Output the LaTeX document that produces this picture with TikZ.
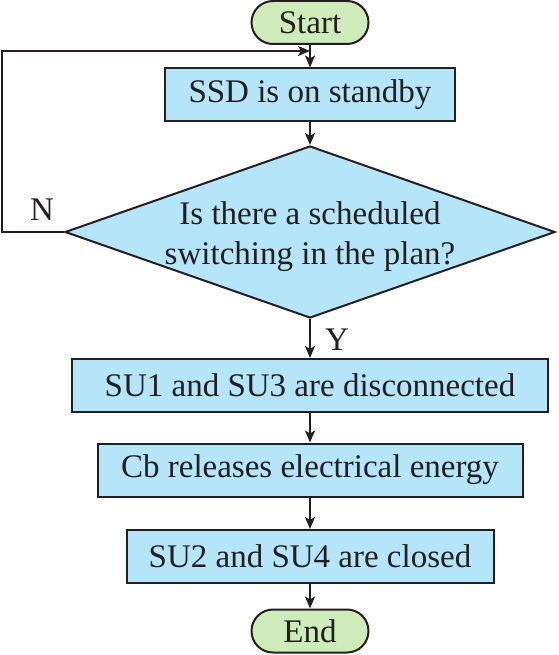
\documentclass[tikz,border=0pt]{standalone}
\usepackage{fontspec}
\setmainfont{Liberation Serif}
\usetikzlibrary{arrows.meta}
\usetikzlibrary{shapes.geometric, shapes.misc}

\definecolor{boxblue}{RGB}{180,229,248}
\definecolor{termgreen}{RGB}{206,236,186}
\definecolor{inkgray}{RGB}{35,31,32}

\tikzset{
	chartfont/.style={text=inkgray, font=\fontsize{33}{40}\selectfont},
	procbox/.style={chartfont, draw=inkgray, line width=2pt, fill=boxblue, minimum height=53pt, inner sep=0pt},
	termbox/.style={chartfont, draw=inkgray, line width=2pt, fill=termgreen, rounded rectangle, minimum width=117pt, minimum height=43pt, inner sep=0pt},
	flow/.style={draw=inkgray, line width=1.9pt, -{Stealth[length=12pt, width=10pt, inset=3pt]}}
}

\begin{document}
\begin{tikzpicture}[x=1pt, y=-1pt]
				\useasboundingbox (0,0) rectangle (558,655);
				\node[termbox] (start) at (310,22.5) {Start};
				\node[procbox, minimum width=290pt] (standby) at (310,95) {SSD is on standby};
				\node[diamond, draw=inkgray, line width=2pt, fill=boxblue, minimum width=490pt, minimum height=172pt, inner sep=0pt,
					label={[chartfont, align=center, yshift=-5pt]center:{Is there a scheduled\\switching in the plan?}}] (plan) at (310,232) {};
				\node[procbox, minimum width=476pt] (disc) at (310,385.5) {SU1 and SU3 are disconnected};
				\node[procbox, minimum width=425pt] (release) at (310,470) {Cb releases electrical energy};
				\node[procbox, minimum width=367pt] (closed) at (310,556.5) {SU2 and SU4 are closed};
				\node[termbox] (end) at (310,631) {End};
				\node[chartfont] (no) at (42,210) {N};
				\node[chartfont] (yes) at (337,340) {Y};
				\coordinate (corner) at (2,51);
				\coordinate (join) at (310,51);
				\begin{scope}[flow]
					\draw (start) -- (standby);
					\draw (standby) -- (plan);
					\draw (plan) -- (disc);
					\draw (disc) -- (release);
					\draw (release) -- (closed);
					\draw (closed) -- (end);
					\draw (plan.west) -| (corner) -- (join);
				\end{scope}
			\end{tikzpicture}
\end{document}
